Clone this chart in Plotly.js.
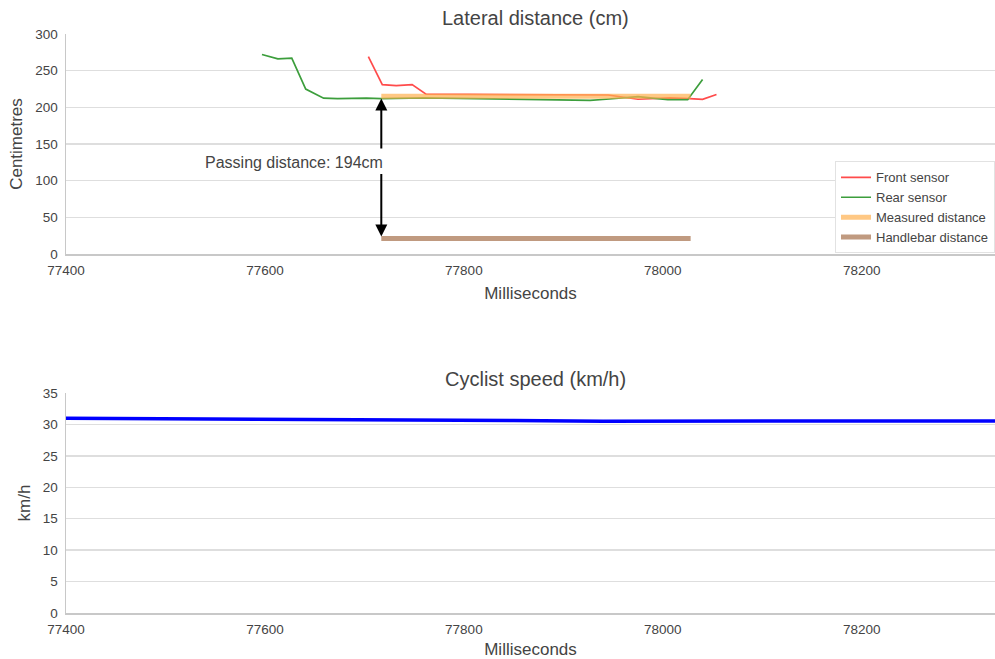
<!DOCTYPE html>
<html>
<head>
<meta charset="utf-8">
<script src="https://cdn.plot.ly/plotly-3.0.1.min.js"></script>
<style>html,body{margin:0;padding:0;overflow:hidden;background:#fff}#chart{width:995px;height:659px}</style>
</head>
<body>
<div id="chart"></div>
<script>
// Front sensor (ms, cm)
var frontX = [77704, 77718, 77732, 77748, 77762, 77850, 77945, 77975, 78007, 78027, 78040, 78054];
var frontY = [269, 231, 229.5, 231, 218, 217.5, 216.8, 211, 213, 212, 211, 217.5];
// Rear sensor (ms, cm)
var rearX = [77597, 77613, 77627, 77641, 77659, 77673, 77702, 77717, 77760, 77850, 77927, 77943, 77975, 78005, 78025, 78040];
var rearY = [272, 266, 267, 225, 212.5, 212, 212.7, 212, 213, 211, 209.5, 211, 214.5, 210.5, 210.5, 238];
// Measured distance and handlebar distance
var measX = [77717, 78028];
var measY = [215, 215];
var handX = [77717, 78028];
var handY = [21, 21];
var passingLabel = "Passing distance: 194cm";
// Cyclist speed (ms, km/h)
var speedX = [77380, 77550, 77700, 77850, 77940, 78100, 78350];
var speedY = [31.0, 30.9, 30.75, 30.62, 30.52, 30.52, 30.55];
var xTicks = [77400, 77600, 77800, 78000, 78200];

var gridC = "#dedede", lineC = "#c8c8c8", textC = "#444";
var font = {family: "Liberation Sans, Arial, sans-serif", size: 13, color: textC};

var traces = [
  {x: frontX, y: frontY, type: "scatter", mode: "lines", name: "Front sensor",
   line: {color: "#ff4b4b", width: 1.7}, xaxis: "x", yaxis: "y"},
  {x: rearX, y: rearY, type: "scatter", mode: "lines", name: "Rear sensor",
   line: {color: "#3c9e3c", width: 1.7}, xaxis: "x", yaxis: "y"},
  {x: measX, y: measY, type: "scatter", mode: "lines", name: "Measured distance",
   line: {color: "rgba(255,176,80,0.7)", width: 5}, xaxis: "x", yaxis: "y"},
  {x: handX, y: handY, type: "scatter", mode: "lines", name: "Handlebar distance",
   line: {color: "#c09a80", width: 5}, xaxis: "x", yaxis: "y"},
  {x: speedX, y: speedY, type: "scatter", mode: "lines", name: "Speed", showlegend: false,
   line: {color: "#0000ff", width: 3.5}, xaxis: "x2", yaxis: "y2"}
];

var xr = [77400, 78334];
function xax(anchor) {
  return {domain: [0, 1], range: xr, anchor: anchor, tickvals: xTicks, tickformat: "d",
    showgrid: false, showline: true, linecolor: lineC, linewidth: 1.5, zeroline: false,
    ticks: "", ticklabelstandoff: 3, tickfont: {size: 13.5, color: textC},
    title: {text: "Milliseconds", font: {size: 17, color: textC}, standoff: 10}};
}
function yax(anchor, domain, range, dtick, title) {
  return {domain: domain, range: range, anchor: anchor, dtick: dtick,
    showgrid: true, gridcolor: gridC, gridwidth: 1.5, showline: true, linecolor: lineC, linewidth: 1.5,
    zeroline: false, ticks: "", ticklabelstandoff: 4, tickfont: {size: 13.5, color: textC},
    title: {text: title, font: {size: 17, color: textC}, standoff: 8}};
}

var m = measX[0];
var layout = {
  width: 995, height: 659,
  margin: {l: 66, r: 0, t: 34, b: 46},
  paper_bgcolor: "#fff", plot_bgcolor: "#fff",
  font: font,
  showlegend: true,
  legend: {x: 1, xanchor: "right", y: 0.78, yanchor: "top", bgcolor: "#fff",
    bordercolor: "#e2e2e2", borderwidth: 1, font: {size: 13, color: textC},
    tracegroupgap: 0},
  xaxis: xax("y"),
  yaxis: yax("x", [0.62, 1], [0, 300], 50, "Centimetres"),
  xaxis2: xax("y2"),
  yaxis2: yax("x2", [0, 0.38], [0, 35], 5, "km/h"),
  annotations: [
    {text: "Lateral distance (cm)", xref: "paper", yref: "paper", x: 0.505, y: 1, yshift: 16,
     xanchor: "center", yanchor: "middle", showarrow: false, font: {size: 20, color: textC}},
    {text: "Cyclist speed (km/h)", xref: "paper", yref: "paper", x: 0.505, y: 0.38, yshift: 14,
     xanchor: "center", yanchor: "middle", showarrow: false, font: {size: 20, color: textC}},
    {text: passingLabel, xref: "x", yref: "y", x: m, y: 125, xanchor: "right", yanchor: "middle",
     xshift: 4, showarrow: false, font: {size: 16, color: textC}},
    {text: "", xref: "x", yref: "y", x: m, y: measY[0] - 3, axref: "x", ayref: "y", ax: m, ay: 142,
     showarrow: true, arrowhead: 2, arrowsize: 1.2, arrowwidth: 2, arrowcolor: "#000"},
    {text: "", xref: "x", yref: "y", x: m, y: handY[0] + 3, axref: "x", ayref: "y", ax: m, ay: 111,
     showarrow: true, arrowhead: 2, arrowsize: 1.2, arrowwidth: 2, arrowcolor: "#000"}
  ]
};

Plotly.newPlot("chart", traces, layout, {displayModeBar: false, staticPlot: true});
</script>
</body>
</html>
